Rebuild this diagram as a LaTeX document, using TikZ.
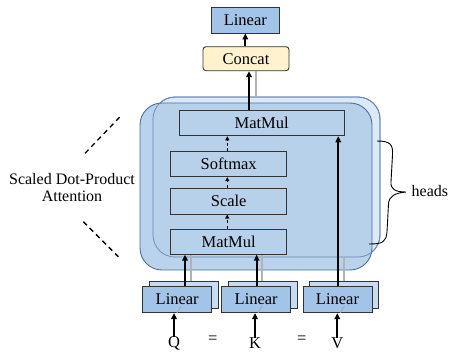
\documentclass[tikz,border=0pt]{standalone}
\usepackage{fontspec}
\setmainfont{Liberation Serif}
\usetikzlibrary{arrows.meta,calc}
\definecolor{frontblue}{HTML}{B4CFEB}
\definecolor{backblue}{HTML}{DCE9F6}
\definecolor{linblue}{HTML}{A3C4E9}
\definecolor{linback}{HTML}{C8DCF1}
\definecolor{concaty}{HTML}{FFF2CC}
\definecolor{edgeblue}{HTML}{4A6FA5}
\definecolor{boxedge}{HTML}{333333}
\tikzset{
  lbl/.style={font=\fontsize{16.5}{18.5}\selectfont, inner sep=0pt},
  sidelbl/.style={font=\fontsize{16}{18}\selectfont, inner sep=0pt},
  opbox/.style={draw=boxedge, line width=0.9pt, inner sep=0pt, font=\fontsize{16.5}{18.5}\selectfont},
  linbox/.style={opbox, fill=linblue, minimum width=69pt, minimum height=26.7pt},
  linshadow/.style={draw=boxedge, line width=0.8pt, fill=linback, minimum width=69pt, minimum height=26.7pt, inner sep=0pt},
  arr/.style={line width=2pt, -{Triangle[length=6pt,width=5.5pt]}},
  shadowline/.style={line width=2pt, draw=black!30},
  darr/.style={line width=0.9pt, dash pattern=on 3pt off 2.5pt, -{Triangle[length=4pt,width=4pt]}},
  guide/.style={line width=1.3pt, dash pattern=on 5pt off 4pt},
}
\begin{document}
\begin{tikzpicture}[x=1pt,y=-1pt]
\useasboundingbox (0,0) rectangle (450,354);
% big head boxes
\path[fill=backblue, draw=edgeblue, line width=0.9pt, rounded corners=22pt] (153,97) rectangle (380,257);
\path[fill=frontblue, fill opacity=0.92, draw=edgeblue, line width=0.9pt, rounded corners=22pt] (140,103) rectangle (372,270);
\path[draw=edgeblue!80, line width=0.7pt, rounded corners=22pt] (153,97) rectangle (380,257);
% top nodes
\node[linbox, minimum width=68pt, minimum height=26pt] (lintop) at (245.3,20) {Linear};
\node[opbox, fill=concaty, rounded corners=3pt, minimum width=86pt, minimum height=24pt] (concat) at (246,58.7) {Concat};
% inner operation boxes
\node[opbox, minimum width=165pt, minimum height=25pt] (mm1) at (261.7,123.3) {MatMul};
\node[opbox, minimum width=116pt, minimum height=25pt] (soft) at (228.7,164.2) {Softmax};
\node[opbox, minimum width=116pt, minimum height=25.7pt] (scale) at (228.7,201.2) {Scale};
\node[opbox, minimum width=116pt, minimum height=25pt] (mm2) at (228.7,241.7) {MatMul};
% linear boxes with shadows
\node[linshadow] (lqb) at (183.8,295) {};
\node[linshadow] (lkb) at (262.8,295) {};
\node[linshadow] (lvb) at (344.2,295) {};
\node[linbox] (lq) at (177.2,299.3) {Linear};
\node[linbox] (lk) at (256.2,299.3) {Linear};
\node[linbox] (lv) at (337.5,299.3) {Linear};
% inputs
\node[lbl] (q) at (174,343.5) {Q};
\node[lbl] (k) at (255,343.5) {K};
\node[lbl] (v) at (337.3,343.5) {V};
\node[lbl] (eq1) at (212.7,340) {=};
\node[lbl] (eq2) at (301.7,340) {=};
% coordinates for vertical lines
\coordinate (xq) at (185,0);
\coordinate (xqs) at (190.7,0);
\coordinate (xk) at (256.7,0);
\coordinate (xks) at (262.3,0);
\coordinate (xv) at (338.3,0);
\coordinate (xvs) at (344,0);
\coordinate (xo) at (249,0);
\coordinate (xos) at (255.7,0);
\coordinate (backtop) at (0,97);
\coordinate (backbot) at (0,257);
% shadow lines
\draw[shadowline] (lqb.north -| xqs) -- (mm2.south -| xqs);
\draw[shadowline] (lkb.north -| xks) -- (mm2.south -| xks);
\draw[shadowline] (lvb.north -| xvs) -- (backbot -| xvs);
\draw[shadowline] (backtop -| xos) -- (concat.south -| xos);
\draw[line width=0.8pt, draw=black!35] (177,313) -- (181,306);
\draw[line width=0.8pt, draw=black!35] (258,313) -- (262,306);
\draw[line width=0.8pt, draw=black!35] (340.3,313) -- (344.3,306);
% main arrows
\draw[arr] (q.north) -- (q.north |- lq.south);
\draw[arr] (k.north) -- (k.north |- lk.south);
\draw[arr] (v.north) -- (v.north |- lv.south);
\draw[arr] (lq.north -| xq) -- (mm2.south -| xq);
\draw[arr] (lk.north -| xk) -- (mm2.south -| xk);
\draw[arr] (lv.north -| xv) -- (mm1.south -| xv);
\draw[arr] (mm1.north -| xo) -- (concat.south -| xo);
\draw[arr] (concat.north -| lintop) -- (lintop.south);
% dashed internal arrows
\coordinate (xd) at (227.3,0);
\draw[darr] (mm2.north -| xd) -- (scale.south -| xd);
\draw[darr] (scale.north -| xd) -- (soft.south -| xd);
\draw[darr] (soft.north -| xd) -- (mm1.south -| xd);
% left label and guides
\node[sidelbl, align=center] (sdpa) at (72,188) {Scaled Dot-Product\\[-1pt]Attention};
\coordinate (g1a) at (85,153.3);
\coordinate (g1b) at (121.7,115);
\coordinate (g2a) at (83.3,221.7);
\coordinate (g2b) at (118.3,256.7);
\draw[guide] (g1a) -- (g1b);
\draw[guide] (g2a) -- (g2b);
% brace and heads
\node[sidelbl, anchor=west] (heads) at (411.5,191) {heads};
\coordinate (tip) at (406,192);
\draw[line width=0.9pt] (377,141) .. controls (391,141) and (393,145) .. (392.5,155)
  -- (391,182) .. controls (390.5,189) and (395,192) .. (tip)
  .. controls (395,193) and (389,196) .. (388.5,204)
  -- (387,232) .. controls (386,242) and (383,244) .. (369,244);
\end{tikzpicture}
\end{document}
